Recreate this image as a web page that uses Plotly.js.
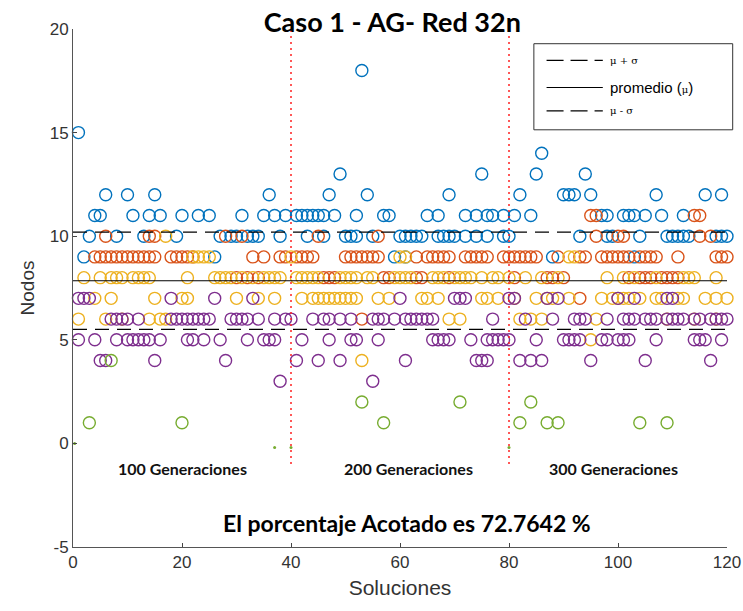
<!DOCTYPE html>
<html>
<head>
<meta charset="utf-8">
<script src="https://cdn.plot.ly/plotly-3.0.1.min.js"></script>
<style>html,body{margin:0;padding:0;background:#fff;}#chart{width:743px;height:611px;}</style>
</head>
<body>
<div id="chart"></div>
<script>
// ---- data: [solution, nodes] pairs ----
const bluePts = [
  [53,18],[1,15],[86,14],[49,13],[75,13],[85,13],[94,13],
  [6,12],[10,12],[15,12],[36,12],[47,12],[54,12],[69,12],[82,12],[90,12],[91,12],[92,12],[95,12],[107,12],[116,12],[119,12],
  [4,11],[5,11],[11,11],[14,11],[16,11],[20,11],[23,11],[25,11],[31,11],[35,11],[37,11],[39,11],[41,11],[42,11],[43,11],[44,11],[45,11],[46,11],[48,11],[52,11],[57,11],[58,11],[65,11],[67,11],[72,11],[74,11],[76,11],[77,11],[79,11],[81,11],[84,11],[97,11],[98,11],[101,11],[102,11],[103,11],[105,11],[108,11],[112,11],
  [3,10],[8,10],[13,10],[19,10],[27,10],[29,10],[30,10],[32,10],[33,10],[34,10],[38,10],[43,10],[46,10],[50,10],[51,10],[52,10],[55,10],[60,10],[61,10],[62,10],[63,10],[64,10],[67,10],[68,10],[69,10],[70,10],[72,10],[74,10],[76,10],[79,10],[80,10],[93,10],[98,10],[99,10],[104,10],[109,10],[110,10],[111,10],[112,10],[113,10],[118,10],[119,10],[120,10],
  [2,9],[26,9],[59,9],[61,9],[88,9],[103,9]
];
const orangePts = [
  [95,11],[96,11],[114,11],[115,11],
  [6,10],[14,10],[15,10],[28,10],[31,10],[45,10],[56,10],[96,10],[100,10],[101,10],[115,10],[117,10],
  [4,9],[5,9],[6,9],[7,9],[8,9],[9,9],[10,9],[11,9],[12,9],[13,9],[14,9],[15,9],[18,9],[19,9],[20,9],[21,9],[22,9],[33,9],[35,9],[38,9],[39,9],[41,9],[42,9],[43,9],[44,9],[50,9],[51,9],[52,9],[53,9],[54,9],[55,9],[56,9],[63,9],[65,9],[66,9],[67,9],[68,9],[69,9],[72,9],[73,9],[74,9],[75,9],[76,9],[79,9],[80,9],[81,9],[82,9],[83,9],[84,9],[85,9],[89,9],[93,9],[94,9],[97,9],[98,9],[99,9],[100,9],[101,9],[102,9],[104,9],[105,9],[106,9],[107,9],[111,9],[118,9],[119,9],[120,9],
  [30,8],[32,8],[34,8],[46,8],[47,8],[48,8],[57,8],[58,8],[63,8],[64,8],[69,8],[81,8],[87,8],[88,8],[90,8],[102,8],[104,8],[105,8],[106,8],[108,8],[109,8],[110,8],[111,8],
  [93,7],[53,6]
];
const yellowPts = [
  [17,10],
  [22,9],[23,9],[24,9],[25,9],[40,9],[60,9],[61,9],[91,9],[92,9],
  [2,8],[5,8],[7,8],[8,8],[9,8],[11,8],[12,8],[13,8],[14,8],[21,8],[26,8],[27,8],[28,8],[29,8],[31,8],[33,8],[35,8],[36,8],[37,8],[38,8],[41,8],[42,8],[43,8],[44,8],[45,8],[49,8],[50,8],[51,8],[52,8],[54,8],[55,8],[59,8],[60,8],[61,8],[62,8],[66,8],[67,8],[68,8],[70,8],[71,8],[72,8],[73,8],[75,8],[77,8],[78,8],[80,8],[83,8],[86,8],[89,8],[98,8],[101,8],[103,8],[107,8],[112,8],[113,8],[114,8],[118,8],
  [4,7],[7,7],[15,7],[20,7],[21,7],[30,7],[34,7],[37,7],[42,7],[44,7],[45,7],[46,7],[47,7],[48,7],[49,7],[50,7],[51,7],[52,7],[56,7],[58,7],[64,7],[65,7],[67,7],[75,7],[76,7],[78,7],[81,7],[85,7],[87,7],[88,7],[91,7],[97,7],[99,7],[100,7],[101,7],[102,7],[104,7],[107,7],[108,7],[111,7],[112,7],[116,7],[118,7],[120,7],
  [1,6],[6,6],[9,6],[14,6],[16,6],[17,6],[69,6],[71,6],[82,6],[84,6],[86,6],[96,6],[109,6],[114,6],[118,6],
  [95,5],[53,4]
];
const purplePts = [
  [1,7],[2,7],[3,7],[18,7],[26,7],[33,7],[60,7],[70,7],[71,7],[72,7],[80,7],[81,7],[87,7],[89,7],[100,7],[103,7],[109,7],[110,7],
  [7,6],[8,6],[9,6],[10,6],[12,6],[18,6],[19,6],[20,6],[21,6],[22,6],[23,6],[24,6],[25,6],[29,6],[30,6],[31,6],[32,6],[34,6],[37,6],[39,6],[40,6],[44,6],[46,6],[47,6],[49,6],[51,6],[55,6],[56,6],[57,6],[59,6],[61,6],[62,6],[63,6],[64,6],[65,6],[66,6],[77,6],[83,6],[88,6],[92,6],[93,6],[94,6],[98,6],[101,6],[102,6],[103,6],[105,6],[106,6],[107,6],[109,6],[110,6],[111,6],[112,6],[114,6],[115,6],[117,6],[118,6],[119,6],[120,6],
  [1,5],[4,5],[8,5],[10,5],[11,5],[12,5],[13,5],[14,5],[16,5],[21,5],[22,5],[24,5],[27,5],[32,5],[35,5],[36,5],[37,5],[42,5],[47,5],[51,5],[52,5],[56,5],[66,5],[67,5],[68,5],[69,5],[73,5],[76,5],[77,5],[78,5],[79,5],[80,5],[85,5],[90,5],[91,5],[92,5],[93,5],[97,5],[98,5],[100,5],[101,5],[102,5],[107,5],[114,5],[115,5],[116,5],[119,5],
  [5,4],[6,4],[15,4],[28,4],[41,4],[45,4],[49,4],[61,4],[74,4],[75,4],[76,4],[82,4],[84,4],[86,4],[95,4],[105,4],[117,4],
  [38,3],[55,3]
];
const greenPts = [
  [7,4],[53,2],[71,2],[84,2],
  [3,1],[20,1],[57,1],[82,1],[87,1],[89,1],[104,1],[109,1]
];
const greenTickX = [0.3, 37, 40, 80];
const greenTickY = [0, -0.2, -0.2, -0.2];
const generationBounds = [40, 80];
const generationLabels = ['100 Generaciones', '200 Generaciones', '300 Generaciones'];
const generationLabelX = [20, 61.5, 99.2];
const muVal = 7.85;
const sigmaVal = 2.35;
const percentText = 'El porcentaje Acotado es 72.7642 %';
const legendLabels = ['μ + σ', 'promedio (μ)', 'μ - σ'];
const xTicks = [0, 20, 40, 60, 80, 100, 120];
const yTicks = [-5, 0, 5, 10, 15, 20];

const colors = ['#0072BD', '#D95319', '#EDB120', '#7E2F8E', '#77AC30'];
const series = [bluePts, orangePts, yellowPts, purplePts, greenPts];
const dashPat = '14px,8px';

const traces = [];
series.forEach((pts, i) => {
  traces.push({
    type: 'scatter', mode: 'markers',
    x: pts.map(p => p[0]), y: pts.map(p => p[1]),
    marker: {symbol: 'circle-open', size: 12, color: colors[i], line: {width: 1.4, color: colors[i]}},
    showlegend: false, cliponaxis: false, hoverinfo: 'x+y'
  });
});
traces.push({
  type: 'scatter', mode: 'markers', x: greenTickX, y: greenTickY,
  marker: {symbol: 'circle', size: 3, color: colors[4]}, showlegend: false, cliponaxis: false
});
generationBounds.forEach(b => {
  traces.push({
    type: 'scatter', mode: 'lines', x: [b, b], y: [-1, 20],
    line: {color: '#ff2020', width: 1.5, dash: '2px,4px'}, showlegend: false, hoverinfo: 'skip'
  });
});
const statLevels = [muVal + sigmaVal, muVal, muVal - sigmaVal];
const statDash = [dashPat, 'solid', dashPat];
statLevels.forEach((lv, i) => {
  traces.push({
    type: 'scatter', mode: 'lines', x: [0, 120], y: [lv, lv],
    line: {color: '#000', width: 1.2, dash: statDash[i]}, showlegend: false, name: legendLabels[i]
  });
});

// legend drawn as a MATLAB-style box (paper coordinates)
const lgBox = {x0: 0.7047, x1: 1.0087, y0: 0.8054, y1: 0.9716};
const lgRowsY = [0.9393, 0.8871, 0.8421];
const lgLineX = [0.7241, 0.8101];
const lgTextX = 0.8177;
const shapes = [{
  type: 'rect', xref: 'paper', yref: 'paper', x0: lgBox.x0, x1: lgBox.x1, y0: lgBox.y0, y1: lgBox.y1,
  line: {color: '#333', width: 1}, fillcolor: '#fff', layer: 'above'
}];
const symStyle = 'font-family:DejaVu Serif;font-size:10px';
const legendHtml = [
  '<span style="' + symStyle + '">' + legendLabels[0] + '</span>',
  'promedio (<span style="' + symStyle + '">μ</span>)',
  '<span style="' + symStyle + '">' + legendLabels[2] + '</span>'
];
const annotations = [];
lgRowsY.forEach((yy, i) => {
  shapes.push({
    type: 'line', xref: 'paper', yref: 'paper', x0: lgLineX[0], x1: lgLineX[1], y0: yy, y1: yy,
    line: {color: '#000', width: 1.2, dash: i === 1 ? 'solid' : '17px,7px'}, layer: 'above'
  });
  annotations.push({
    xref: 'paper', yref: 'paper', x: lgTextX, y: yy, xanchor: 'left', yanchor: 'middle',
    text: legendHtml[i], showarrow: false,
    font: {family: 'Liberation Sans, Arial, sans-serif', size: 15, color: '#000'}
  });
});

generationLabels.forEach((t, i) => annotations.push({
  x: generationLabelX[i], y: -1.2, xref: 'x', yref: 'y', text: '<b>' + t + '</b>', showarrow: false,
  font: {family: 'Lato, Open Sans, sans-serif', size: 16, color: '#111'}, xanchor: 'center', yanchor: 'middle'
}));
annotations.push({
  x: 61.2, y: -3.85, xref: 'x', yref: 'y', text: '<b>' + percentText + '</b>', showarrow: false,
  font: {family: 'Lato, Open Sans, sans-serif', size: 23, color: '#000'}, xanchor: 'center', yanchor: 'middle'
});

const axisFont = {family: 'Liberation Sans, Arial, sans-serif', size: 17, color: '#333'};
const layout = {
  width: 743, height: 611,
  margin: {l: 73, r: 16, t: 29, b: 64},
  paper_bgcolor: '#fff', plot_bgcolor: '#fff',
  font: {family: 'Liberation Sans, Arial, sans-serif', color: '#333'},
  showlegend: false,
  title: {
    text: '<b>Caso 1 - AG- Red 32n</b>', xref: 'container', x: 0.528, xanchor: 'center',
    yref: 'container', y: 1 - 23 / 611, yanchor: 'middle',
    font: {family: 'Lato, Open Sans, sans-serif', size: 27, color: '#000'}
  },
  xaxis: {
    range: [0, 120], tickvals: xTicks, ticks: 'inside', ticklen: 4, tickcolor: '#444',
    showline: true, linecolor: '#555', linewidth: 1, showgrid: false, zeroline: false,
    tickfont: axisFont,
    title: {text: 'Soluciones', font: {family: 'Liberation Sans, Arial, sans-serif', size: 21, color: '#333'}, standoff: 8}
  },
  yaxis: {
    range: [-5, 20], tickvals: yTicks, ticktext: yTicks.map(v => String(v)), ticks: 'inside', ticklen: 4, tickcolor: '#444',
    showline: true, linecolor: '#555', linewidth: 1, showgrid: false, zeroline: false,
    tickfont: axisFont,
    title: {text: 'Nodos', font: {family: 'Liberation Sans, Arial, sans-serif', size: 19, color: '#333'}, standoff: 10}
  },
  shapes: shapes,
  annotations: annotations,
  hovermode: 'closest'
};
Plotly.newPlot('chart', traces, layout, {displayModeBar: false, responsive: false});
</script>
</body>
</html>
